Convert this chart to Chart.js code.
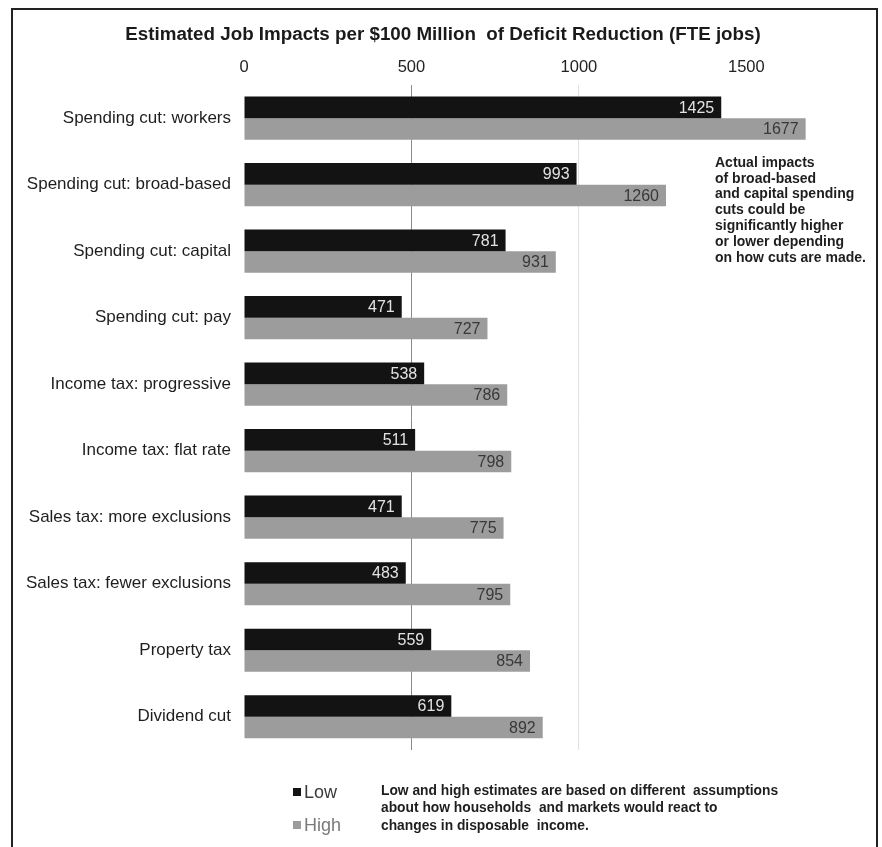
<!DOCTYPE html>
<html>
<head>
<meta charset="utf-8">
<title>Job impacts of deficit reduction</title>
<script src="https://cdn.jsdelivr.net/npm/chart.js@4.4.1/dist/chart.umd.min.js"></script>
<style>
  html, body { margin: 0; padding: 0; background: #fff; }
  #wrap { position: relative; width: 882px; height: 847px; }
</style>
</head>
<body>
<div id="wrap"><canvas id="grafico" width="882" height="847"></canvas></div>
<script>
const categorias = [
  'Spending cut: workers',
  'Spending cut: broad-based',
  'Spending cut: capital',
  'Spending cut: pay',
  'Income tax: progressive',
  'Income tax: flat rate',
  'Sales tax: more exclusions',
  'Sales tax: fewer exclusions',
  'Property tax',
  'Dividend cut'
]
const baixo = [1425, 993, 781, 471, 538, 511, 471, 483, 559, 619]
const alto = [1677, 1260, 931, 727, 786, 798, 775, 795, 854, 892]
const marcas = [0, 500, 1000, 1500]

const nota = [
  'Actual impacts',
  'of broad-based',
  'and capital spending',
  'cuts could be',
  'significantly higher',
  'or lower depending',
  'on how cuts are made.'
]
const rodape = [
  'Low and high estimates are based on different  assumptions',
  'about how households  and markets would react to',
  'changes in disposable  income.'
]

const fonte = "'Liberation Sans', Arial, sans-serif"

// numeros dentro da ponta de cada barra
const rotulos = {
  id: 'rotulos',
  afterDatasetsDraw(chart) {
    const { ctx } = chart
    ctx.save()
    ctx.font = '16px ' + fonte
    ctx.textAlign = 'right'
    ctx.textBaseline = 'middle'
    chart.data.datasets.forEach((ds, i) => {
      const meta = chart.getDatasetMeta(i)
      ctx.fillStyle = i === 0 ? '#e2e2e2' : '#383838'
      meta.data.forEach((bar, j) => {
        ctx.fillText(String(ds.data[j]), bar.x - 7, bar.y + 1)
      })
    })
    ctx.restore()
  }
}

// moldura, nota lateral e legenda de baixo
const extras = {
  id: 'extras',
  afterDraw(chart) {
    const { ctx } = chart
    ctx.save()
    ctx.strokeStyle = '#222'
    ctx.lineWidth = 2
    ctx.strokeRect(12, 9, 865, 860)

    ctx.fillStyle = '#1e1e1e'
    ctx.font = 'bold 14px ' + fonte
    ctx.textAlign = 'left'
    ctx.textBaseline = 'middle'
    nota.forEach((linha, i) => ctx.fillText(linha, 715, 163 + i * 15.8))

    const ds = chart.data.datasets
    ctx.font = '18px ' + fonte
    ds.forEach((d, i) => {
      const y = 792 + i * 33
      ctx.fillStyle = d.backgroundColor
      ctx.fillRect(293, y - 4, 8, 8)
      ctx.fillStyle = i === 0 ? '#3a3a3a' : '#7a7a7a'
      ctx.fillText(d.label, 304, y + 1)
    })

    ctx.fillStyle = '#1e1e1e'
    ctx.font = 'bold 13.8px ' + fonte
    rodape.forEach((linha, i) => ctx.fillText(linha, 381, 791 + i * 17.5))
    ctx.restore()
  }
}

const grafico = new Chart(document.getElementById('grafico'), {
  type: 'bar',
  data: {
    labels: categorias,
    datasets: [
      { label: 'Low', data: baixo, backgroundColor: '#131313' },
      { label: 'High', data: alto, backgroundColor: '#9c9c9c' }
    ]
  },
  options: {
    indexAxis: 'y',
    responsive: false,
    animation: false,
    layout: { padding: { top: 0, right: 0, bottom: 97, left: 4 } },
    datasets: {
      bar: { categoryPercentage: 0.65, barPercentage: 1.0 }
    },
    plugins: {
      legend: { display: false },
      tooltip: { enabled: false },
      title: {
        display: true,
        text: 'Estimated Job Impacts per $100 Million  of Deficit Reduction (FTE jobs)',
        color: '#1a1a1a',
        font: { family: fonte, size: 18.8, weight: 'bold' },
        padding: { top: 24, bottom: 5 }
      }
    },
    scales: {
      x: {
        position: 'top',
        min: 0,
        max: 1905,
        ticks: {
          stepSize: 500,
          color: '#222',
          padding: 8,
          font: { family: fonte, size: 16.5 },
          callback: v => String(v)
        },
        afterBuildTicks: scale => {
          scale.ticks = marcas.map(v => ({ value: v }))
        },
        afterFit: scale => { scale.height = 33.4 },
        border: { display: false },
        grid: {
          drawTicks: false,
          color: c => c.tick && c.tick.value === 500 ? '#8a8a8a'
            : c.tick && c.tick.value === 1000 ? '#e0e0e0' : 'rgba(0,0,0,0)'
        }
      },
      y: {
        afterFit: scale => { scale.width = 240 },
        border: { display: false },
        grid: { display: false, drawTicks: false },
        ticks: {
          color: '#1e1e1e',
          padding: 13,
          font: { family: fonte, size: 17 }
        }
      }
    }
  },
  plugins: [rotulos, extras]
})
</script>
</body>
</html>
